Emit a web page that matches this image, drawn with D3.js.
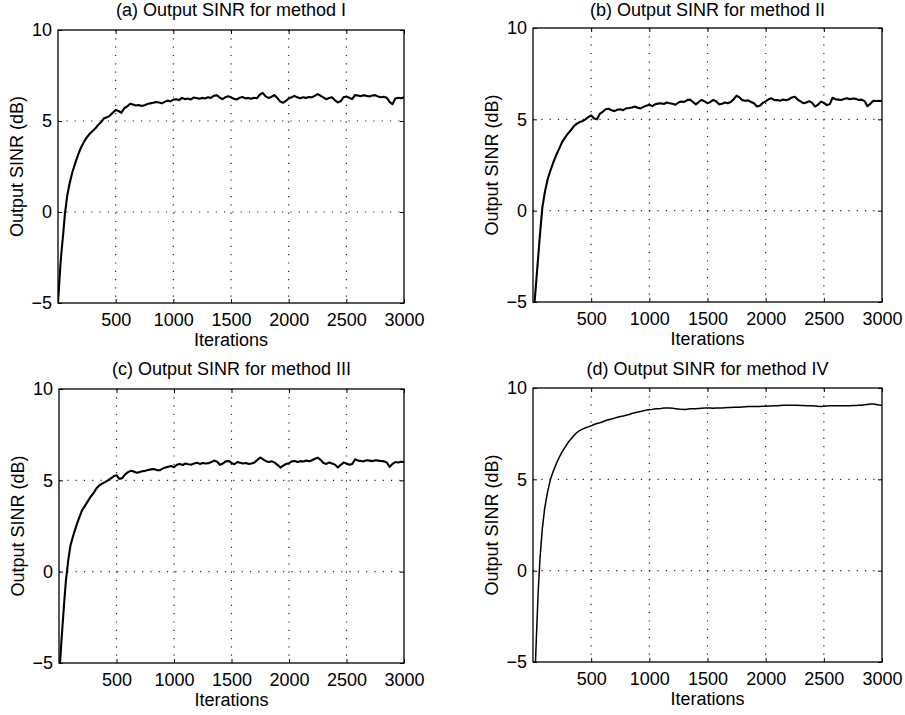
<!DOCTYPE html>
<html>
<head>
<meta charset="utf-8">
<script src="https://cdn.jsdelivr.net/npm/d3@7"></script>
<style>
  html, body { margin: 0; padding: 0; background: #fff; }
  svg { display: block; }
  text { font-family: "Liberation Sans", Arial, Helvetica, sans-serif; fill: #000; }
</style>
</head>
<body>
<svg id="chart" width="905" height="715"></svg>
<script>
// ---------------- data ----------------
const iterations = [0, 10, 20, 30, 45, 60, 80, 100, 125, 150, 175, 200].concat(d3.range(225, 3001, 25));

const xTickValues = [500, 1000, 1500, 2000, 2500, 3000];
const yTickValues = [-5, 0, 5, 10];
const xGridValues = [500, 1000, 1500, 2000, 2500];
const yGridValues = [0, 5];

const titles = [
  "(a) Output SINR for method I",
  "(b) Output SINR for method II",
  "(c) Output SINR for method III",
  "(d) Output SINR for method IV"
];
const xLabel = "Iterations";
const yLabel = "Output SINR (dB)";

const sinrMethodI = [
  -5.0, -4.0, -3.0, -2.2, -1.2, -0.1, 0.9, 1.55, 2.2, 2.7, 3.15, 3.55,
  3.85, 4.1, 4.3, 4.45,
  4.6, 4.8, 4.95, 5.15,
  5.2, 5.3, 5.45, 5.6,
  5.55, 5.45, 5.7, 5.8,
  5.95, 5.9, 5.85, 5.88,
  5.82, 5.86, 5.93, 5.97,
  6.0, 6.04, 6.02, 5.97,
  6.05, 6.12, 6.08, 6.17,
  6.2, 6.15, 6.27, 6.2,
  6.24, 6.18, 6.29, 6.26,
  6.22, 6.27, 6.24, 6.3,
  6.27, 6.38, 6.42, 6.3,
  6.2, 6.3, 6.36, 6.3,
  6.22, 6.18, 6.28, 6.32,
  6.24, 6.27, 6.22, 6.28,
  6.25, 6.45, 6.55, 6.35,
  6.27, 6.32, 6.42, 6.28,
  6.08, 6.0, 6.1, 6.24,
  6.3, 6.38, 6.3, 6.25,
  6.3, 6.27, 6.32, 6.3,
  6.38, 6.48, 6.4, 6.3,
  6.2, 6.26, 6.3, 6.15,
  6.02, 6.08, 6.3, 6.35,
  6.28, 6.2, 6.42, 6.4,
  6.36, 6.42, 6.38, 6.35,
  6.4, 6.42, 6.35, 6.3,
  6.33, 6.28, 6.05, 5.92,
  6.24, 6.28, 6.25, 6.3
];

const sinrMethodII = [
  -6.2, -5.3, -4.5, -3.7, -2.5, -1.3, 0.15, 0.95, 1.7, 2.2, 2.65, 3.05,
  3.4, 3.75, 4.0, 4.22,
  4.4, 4.62, 4.75, 4.85,
  4.9, 5.0, 5.12, 5.22,
  5.05, 5.0, 5.3, 5.42,
  5.55, 5.58, 5.5, 5.45,
  5.52, 5.55, 5.5, 5.6,
  5.62, 5.65, 5.7, 5.63,
  5.6, 5.68, 5.75, 5.8,
  5.72, 5.82, 5.86, 5.88,
  5.84, 5.92, 5.88, 5.85,
  5.8, 5.92, 5.97, 5.95,
  6.05, 6.08, 5.95, 5.82,
  5.95, 6.06, 5.98, 5.88,
  5.95, 6.06, 5.98, 5.82,
  5.85, 5.92, 5.88, 5.95,
  6.1, 6.3, 6.2, 6.05,
  6.02, 6.04, 5.95, 5.88,
  5.7, 5.75, 5.9, 5.98,
  6.1, 6.15, 6.05, 6.06,
  6.02, 6.08, 6.05, 6.1,
  6.2, 6.24, 6.08, 5.98,
  5.88, 5.92, 6.0, 5.9,
  5.7, 5.8, 5.97, 5.9,
  5.78, 5.82, 6.18, 6.1,
  6.08, 6.06, 6.12, 6.15,
  6.1, 6.14, 6.12, 6.06,
  6.08, 6.0, 5.72, 5.85,
  6.02, 6.0, 6.02, 6.0
];

const sinrMethodIII = [
  -5.3, -4.9, -3.9, -3.0, -1.7, -0.5, 0.6, 1.45, 2.0, 2.5, 2.95, 3.35,
  3.6, 3.85, 4.1, 4.3,
  4.55, 4.72, 4.82, 4.9,
  5.0, 5.1, 5.22, 5.28,
  5.08, 5.12, 5.33, 5.45,
  5.52, 5.48, 5.42, 5.45,
  5.5, 5.52, 5.56, 5.6,
  5.62, 5.56, 5.55, 5.64,
  5.7, 5.74, 5.78, 5.72,
  5.85, 5.9, 5.84, 5.92,
  5.88, 5.86, 5.92, 5.96,
  5.9, 5.95, 5.92, 5.94,
  6.0, 6.08, 6.02, 5.85,
  5.92, 6.04, 6.06, 5.95,
  5.88, 6.0, 5.96, 5.92,
  5.95, 5.9, 5.92, 5.98,
  6.12, 6.25, 6.15, 6.05,
  6.0, 6.04, 5.97, 5.85,
  5.7, 5.8, 5.9, 5.94,
  6.04, 6.06, 6.0, 6.05,
  6.03, 6.08, 6.04, 6.1,
  6.18, 6.24, 6.12, 5.95,
  5.9, 5.98, 5.92, 5.86,
  5.7, 5.85, 5.97, 5.92,
  5.85, 5.9, 6.15, 6.08,
  6.06, 6.04, 6.1, 6.08,
  6.05, 6.1, 6.08, 6.06,
  6.04, 5.98, 5.73, 5.9,
  6.0, 5.98, 6.02, 6.0
];

const sinrMethodIV = [
  -7.0, -6.5, -5.2, -3.5, -1.1, 0.65, 2.3, 3.4, 4.3, 5.0, 5.45, 5.85,
  6.2, 6.5, 6.75, 7.0,
  7.2, 7.38, 7.55, 7.67,
  7.75, 7.82, 7.87, 7.93,
  8.0, 8.06, 8.1, 8.15,
  8.22, 8.26, 8.3, 8.35,
  8.4, 8.44, 8.47, 8.51,
  8.55, 8.6, 8.64, 8.68,
  8.71, 8.75, 8.79, 8.81,
  8.83, 8.86, 8.87, 8.88,
  8.9, 8.91, 8.9, 8.89,
  8.87, 8.85, 8.83, 8.82,
  8.84, 8.86, 8.87, 8.87,
  8.88, 8.89, 8.9, 8.9,
  8.9, 8.89, 8.9, 8.9,
  8.91, 8.92, 8.93, 8.93,
  8.94, 8.94, 8.94, 8.96,
  8.98, 8.99, 8.99, 8.99,
  8.99, 8.99, 9.0, 9.0,
  9.01, 9.02, 9.03, 9.03,
  9.04, 9.05, 9.05, 9.05,
  9.05, 9.05, 9.05, 9.04,
  9.04, 9.03, 9.03, 9.03,
  9.02, 9.0, 8.99, 9.0,
  9.02, 9.03, 9.03, 9.03,
  9.03, 9.03, 9.03, 9.03,
  9.03, 9.04, 9.04, 9.05,
  9.06, 9.08, 9.1, 9.12,
  9.12, 9.1, 9.07, 9.05
];

const seriesList = [sinrMethodI, sinrMethodII, sinrMethodIII, sinrMethodIV];

// ---------------- layout ----------------
const layouts = [
  { left: 58,  right: 404, top: 30,  bottom: 303, lw: 2.1, titleY: 16 },
  { left: 533, right: 882, top: 28,  bottom: 302, lw: 2.1, titleY: 16 },
  { left: 59,  right: 404, top: 389, bottom: 663, lw: 2.1, titleY: 375 },
  { left: 533, right: 882, top: 388, bottom: 662, lw: 1.5, titleY: 375 }
];

const FONT = 18;
const svg = d3.select("#chart");
const defs = svg.append("defs");

layouts.forEach((L, i) => {
  const values = seriesList[i];
  const x = d3.scaleLinear().domain([0, 3000]).range([L.left, L.right]);
  const y = d3.scaleLinear().domain([-5, 10]).range([L.bottom, L.top]);
  const g = svg.append("g");

  defs.append("clipPath").attr("id", "clip" + i)
    .append("rect")
    .attr("x", L.left).attr("y", L.top)
    .attr("width", L.right - L.left).attr("height", L.bottom - L.top);

  // grid
  g.selectAll(".vg").data(xGridValues).join("line")
    .attr("x1", d => x(d)).attr("x2", d => x(d))
    .attr("y1", L.top).attr("y2", L.bottom)
    .attr("stroke", "#222").attr("stroke-width", 1.2)
    .attr("stroke-dasharray", "1.2,7.1");
  g.selectAll(".hg").data(yGridValues).join("line")
    .attr("y1", d => y(d)).attr("y2", d => y(d))
    .attr("x1", L.left).attr("x2", L.right)
    .attr("stroke", "#222").attr("stroke-width", 1.2)
    .attr("stroke-dasharray", "1.2,7.1");

  // axes
  const bottomAxis = d3.axisBottom(x).tickValues(xTickValues).tickFormat(d3.format("d"))
    .tickSizeInner(-4).tickSizeOuter(0).tickPadding(10);
  const leftAxis = d3.axisLeft(y).tickValues(yTickValues)
    .tickFormat(d => d < 0 ? "\u2212" + Math.abs(d) : String(d))
    .tickSizeInner(-4).tickSizeOuter(0).tickPadding(6);
  const topAxis = d3.axisTop(x).tickValues(xTickValues).tickFormat("").tickSizeInner(-4).tickSizeOuter(0);
  const rightAxis = d3.axisRight(y).tickValues(yTickValues).tickFormat("").tickSizeInner(-4).tickSizeOuter(0);

  const gb = g.append("g").attr("transform", `translate(0,${L.bottom})`).call(bottomAxis);
  const gl = g.append("g").attr("transform", `translate(${L.left},0)`).call(leftAxis);
  const gt = g.append("g").attr("transform", `translate(0,${L.top})`).call(topAxis);
  const gr = g.append("g").attr("transform", `translate(${L.right},0)`).call(rightAxis);
  [gb, gl, gt, gr].forEach(a => {
    a.select(".domain").remove();
    a.selectAll("line").attr("stroke", "#000").attr("stroke-width", 1);
    a.selectAll("text").attr("font-size", FONT)
      .attr("font-family", "'Liberation Sans', Arial, Helvetica, sans-serif").attr("fill", "#000");
  });

  // frame
  g.append("rect")
    .attr("x", L.left).attr("y", L.top)
    .attr("width", L.right - L.left).attr("height", L.bottom - L.top)
    .attr("fill", "none").attr("stroke", "#000").attr("stroke-width", 1.3);

  // line
  const line = d3.line().x((d, j) => x(iterations[j])).y(d => y(d));
  g.append("path")
    .datum(values)
    .attr("clip-path", `url(#clip${i})`)
    .attr("d", line)
    .attr("fill", "none").attr("stroke", "#000")
    .attr("stroke-width", L.lw).attr("stroke-linejoin", "round");

  // title
  const cx = (L.left + L.right) / 2;
  g.append("text").attr("x", cx).attr("y", L.titleY)
    .attr("text-anchor", "middle").attr("font-size", FONT).text(titles[i]);

  // x label
  g.append("text").attr("x", cx).attr("y", L.bottom + 43)
    .attr("text-anchor", "middle").attr("font-size", FONT).text(xLabel);

  // y label
  const cy = (L.top + L.bottom) / 2;
  g.append("text")
    .attr("transform", `translate(${L.left - 35},${cy}) rotate(-90)`)
    .attr("text-anchor", "middle").attr("font-size", FONT).text(yLabel);
});
</script>
</body>
</html>
